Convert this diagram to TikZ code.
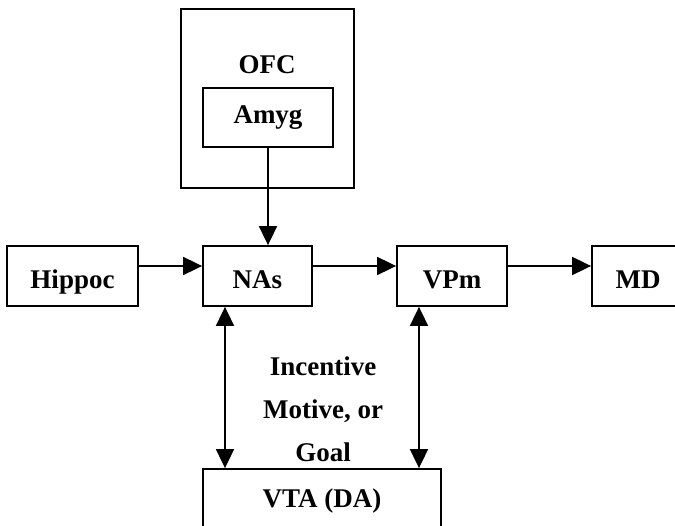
\documentclass[tikz,border=0pt]{standalone}
\usepackage{fontspec}
\setmainfont{Liberation Serif}
\usetikzlibrary{arrows.meta}
\begin{document}
\begin{tikzpicture}[x=1pt,y=-1pt,
    box/.style={draw,line width=1.8pt,inner sep=0pt,minimum height=60pt,
      font=\fontsize{27}{32}\selectfont\bfseries},
    rowbox/.style={box,text height=26pt,text depth=0pt},
    link/.style={line width=1.8pt,>={Triangle[length=19pt,width=18pt]}}]
    \useasboundingbox (0,0) rectangle (675,526);
    \node[box,minimum width=173pt,minimum height=179pt] (ofc) at (267.5,98.5) {};
    \node[font=\fontsize{27}{32}\selectfont\bfseries] (ofclab) at (267,65) {OFC};
    \node[box,minimum width=130pt,minimum height=59pt] (amyg) at (268,117.5) {Amyg};
    \node[rowbox,minimum width=131pt] (hippoc) at (72.5,276) {Hippoc};
    \node[rowbox,minimum width=109pt] (nas) at (257.5,276) {NAs};
    \node[rowbox,minimum width=110pt] (vpm) at (452,276) {VPm};
    \node[rowbox,minimum width=92pt] (md) at (638,276) {MD};
    \node[box,minimum width=238pt,minimum height=64pt] (vta) at (322,501) {VTA (DA)};
    \node[align=center,font=\fontsize{27}{43}\selectfont\bfseries] (goal) at (323,409)
      {Incentive\\Motive, or\\Goal};
    \draw[link,->] (amyg.south) -- (amyg.south |- nas.north);
    \draw[link,->] ([yshift=10pt]hippoc.east) -- ([yshift=10pt]nas.west);
    \draw[link,->] ([yshift=10pt]nas.east) -- ([yshift=10pt]vpm.west);
    \draw[link,->] ([yshift=10pt]vpm.east) -- ([yshift=10pt]md.west);
    \draw[link,<->] ([xshift=-32.5pt]nas.south) -- ([xshift=-32.5pt]nas.south |- vta.north);
    \draw[link,<->] ([xshift=-33pt]vpm.south) -- ([xshift=-33pt]vpm.south |- vta.north);
\end{tikzpicture}
\end{document}
